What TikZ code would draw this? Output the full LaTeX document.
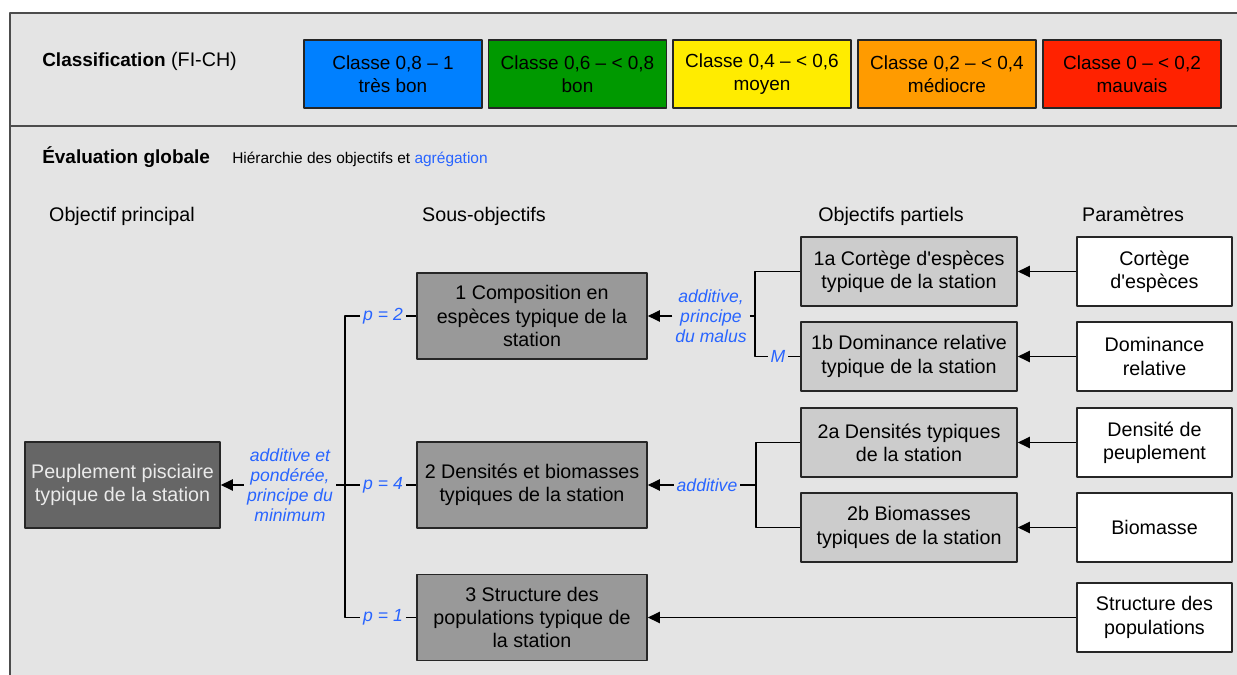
\documentclass[tikz,border=0pt]{standalone}
\usepackage{fontspec}
\setmainfont{Liberation Sans}
\usetikzlibrary{arrows.meta}
\definecolor{fond}{HTML}{E4E4E4}
\definecolor{bleu}{RGB}{40,100,255}
\definecolor{gfonce}{HTML}{666666}
\definecolor{gmoyen}{HTML}{999999}
\definecolor{gclair}{HTML}{CCCCCC}
\definecolor{cbleu}{RGB}{0,128,255}
\definecolor{cvert}{RGB}{0,153,0}
\definecolor{cjaune}{RGB}{255,236,0}
\definecolor{corange}{RGB}{255,155,0}
\definecolor{crouge}{RGB}{255,34,0}
\begin{document}
\begin{tikzpicture}[x=0.025cm, y=-0.025cm, line join=round,
	font=\fontsize{14}{16.5}\selectfont,
	boite/.style={draw=black!85, line width=1.1pt, align=center, inner sep=2pt},
	classe/.style={boite, minimum width=4.45cm, minimum height=1.7cm, font=\fontsize{13.5}{16}\selectfont},
	princ/.style={boite, fill=gfonce, text=white!92!black, minimum width=4.875cm, minimum height=2.15cm},
	sousobj/.style={boite, fill=gmoyen, minimum width=5.75cm, minimum height=2.15cm},
	partiel/.style={boite, fill=gclair, minimum width=5.4cm, minimum height=1.725cm},
	param/.style={boite, fill=white, minimum width=3.875cm, minimum height=1.725cm},
	agg/.style={text=bleu, font=\fontsize{12.5}{14.2}\selectfont\itshape, align=center, inner sep=2pt},
	entete/.style={inner sep=0pt, anchor=base},
	lien/.style={line width=1pt},
	fleche/.style={lien, -{Triangle[length=0.3cm,width=0.28cm]}},
	cadre/.style={draw=black!70, line width=1.4pt}]
	\useasboundingbox (0,0) rectangle (1237,675);
	% cadre et fond
	\fill[fond] (10,13) rectangle (1240,680);
	\draw[cadre] (1240,13) -- (10,13) -- (10,680);
	\draw[cadre] (10,126) -- (1240,126);
	% classification
	\node[inner sep=0pt, anchor=base west] (classif) at (42,67) {{\fontsize{13.5}{16}\selectfont\bfseries Classification} (FI-CH)};
	\node[classe, fill=cbleu] (cls1) at (393,74) {Classe 0,8 – 1\\très bon};
	\node[classe, fill=cvert] (cls2) at (577.5,74) {Classe 0,6 – < 0,8\\bon};
	\node[classe, fill=cjaune] (cls3) at (762,74) {Classe 0,4 – < 0,6\\moyen};
	\node[classe, fill=corange] (cls4) at (947,74) {Classe 0,2 – < 0,4\\médiocre};
	\node[classe, fill=crouge] (cls5) at (1132,74) {Classe 0 – < 0,2\\mauvais};
	% evaluation globale
	\node[inner sep=0pt, anchor=base west, font=\fontsize{13.5}{16}\selectfont\bfseries] (evalg) at (42,164) {Évaluation globale};
	\node[inner sep=0pt, anchor=base west, font=\fontsize{11}{13}\selectfont] (hier) at (232,164) {Hiérarchie des objectifs et \textcolor{bleu}{agrégation}};
	\node[entete] (hPrinc) at (122,222) {Objectif principal};
	\node[entete] (hSous) at (484,222) {Sous-objectifs};
	\node[entete] (hPart) at (891,222) {Objectifs partiels};
	\node[entete] (hParam) at (1133,222) {Paramètres};
	% boites
	\node[princ] (main) at (122.5,485) {Peuplement pisciaire\\typique de la station};
	\node[sousobj] (sub1) at (532,316) {1 Composition en\\espèces typique de la\\station};
	\node[sousobj] (sub2) at (532,485) {2 Densités et biomasses\\typiques de la station};
	\node[sousobj] (sub3) at (532,617.5) {3 Structure des\\populations typique de\\la station};
	\node[partiel] (par1a) at (909,271.5) {1a Cortège d\textquotesingle espèces\\typique de la station};
	\node[partiel] (par1b) at (909,356.5) {1b Dominance relative\\typique de la station};
	\node[partiel] (par2a) at (909,442.5) {2a Densités typiques\\de la station};
	\node[partiel] (par2b) at (909,527.5) {2b Biomasses\\typiques de la station};
	\node[param] (prm1) at (1154.5,271.5) {Cortège\\d\textquotesingle espèces};
	\node[param] (prm2) at (1154.5,356.5) {Dominance\\relative};
	\node[param] (prm3) at (1154.5,442.5) {Densité de\\peuplement};
	\node[param] (prm4) at (1154.5,527.5) {Biomasse};
	\node[param] (prm5) at (1154.5,617.5) {Structure des\\populations};
	% agregation principale
	\node[agg] (aggP) at (290,485) {additive et\\pondérée,\\principe du\\minimum};
	\coordinate (brkP) at (345,485);
	\node[agg] (pA) at (383,316) {p = 2};
	\node[agg] (pB) at (383,485) {p = 4};
	\node[agg] (pC) at (383,617.5) {p = 1};
	\draw[fleche] (aggP.west) -- (main.east);
	\draw[lien] (aggP.east) -- (brkP);
	\draw[lien] (pA.west) -| (brkP) |- (pC.west);
	\draw[lien] (brkP) -- (pB.west);
	\draw[lien] (pA.east) -- (sub1.west);
	\draw[lien] (pB.east) -- (sub2.west);
	\draw[lien] (pC.east) -- (sub3.west);
	% composition
	\node[agg] (aggM) at (711,316) {additive,\\principe\\du malus};
	\coordinate (brkM) at (755,316);
	\node[agg] (mNode) at (778,356.5) {M};
	\draw[fleche] (aggM.west) -- (sub1.east);
	\draw[lien] (aggM.east) -- (brkM);
	\draw[lien] (par1a.west) -| (brkM) |- (mNode.west);
	\draw[lien] (mNode.east) -- (par1b.west);
	% densites et biomasses
	\node[agg] (aggA) at (707,485) {additive};
	\coordinate (brkA) at (756,485);
	\draw[fleche] (aggA.west) -- (sub2.east);
	\draw[lien] (aggA.east) -- (brkA);
	\draw[lien] (par2a.west) -| (brkA) |- (par2b.west);
	% parametres
	\draw[fleche] (prm1.west) -- (par1a.east);
	\draw[fleche] (prm2.west) -- (par1b.east);
	\draw[fleche] (prm3.west) -- (par2a.east);
	\draw[fleche] (prm4.west) -- (par2b.east);
	\draw[fleche] (prm5.west) -- (sub3.east);
\end{tikzpicture}
\end{document}
